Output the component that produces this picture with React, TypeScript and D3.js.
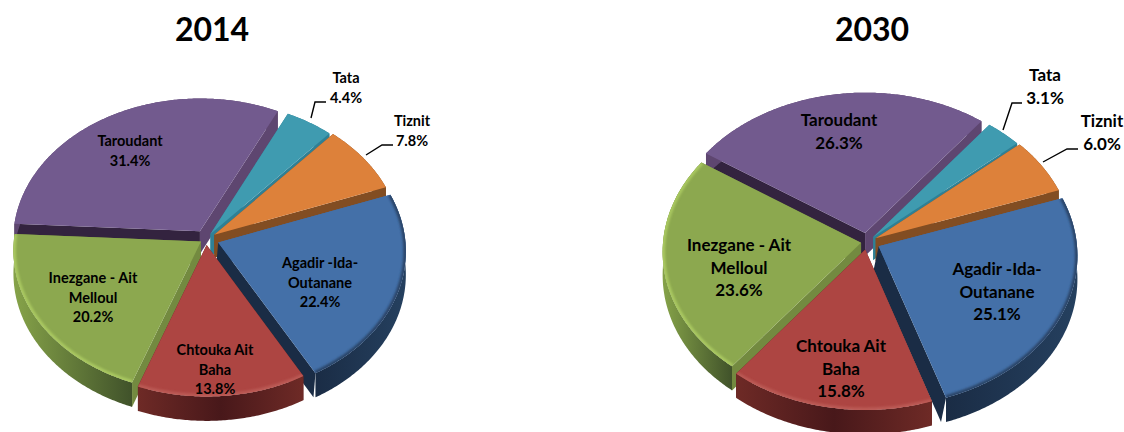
import React from "react";
import * as d3 from "d3";

const FONT = "Lato, Carlito, 'Open Sans', sans-serif";
const categories = ["Agadir -Ida-\nOutanane", "Chtouka Ait\nBaha", "Inezgane - Ait\nMelloul", "Taroudant", "Tata", "Tiznit"];
const values2014 = [22.4, 13.8, 20.2, 31.4, 4.4, 7.8];
const values2030 = [25.1, 15.8, 23.6, 26.3, 3.1, 6.0];

const tops = ["#4470A8", "#AD4542", "#8CA84F", "#725A8E", "#3F9BB0", "#DD813A"];
const startWalls = ["#4470A8", "#5A2320", "#738A40", "#33233F", "#2F8095", "#824D22"];
const endWalls = ["#1A2C45", "#5A2320", "#738A40", "#5E4670", "#2F8095", "#824D22"];
const outerA = ["#25405f", "#6e2a26", "#86a349", "#5E4670", "#2F8095", "#824D22"];
const outerB = ["#1A2C45", "#48181a", "#40522a", "#5E4670", "#2F8095", "#824D22"];
const rims = ["#2a4468", "#bb5a55", "#a9c860", "none", "none", "none"];
const paintOrder = [3, 4, 5, 0, 2, 1];

const explode2014 = [13, 8, 6, 12, 8, 10];
const explode2030 = [13, 10, 6, 12, 9, 10];
const labelPos2014: [number, number][] = [[320, 263], [215, 350], [93, 278], [130, 141], [346, 78], [412, 121]];
const labelPos2030: [number, number][] = [[997, 269], [841, 346], [739, 245], [839, 120], [1045, 75], [1102, 121]];
const leaders2014: [number, number][][] = [[[311, 118], [315, 102], [326, 102]], [[366, 155], [382, 145], [393, 145]]];
const leaders2030: [number, number][][] = [[[1003, 130], [1012, 103], [1022, 103]], [[1043, 162], [1067, 149], [1078, 149]]];

type Cfg = {
  id: string; title: string; titleX: number; values: number[]; cx: number; cy: number; R: number;
  start: number; depth: number; explode: number[]; labels: [number, number][]; leaders: [number, number][][];
  font: number; lh: number; wallSkew: number;
};
const charts: Cfg[] = [
  { id: "a", title: "2014", titleX: 212, values: values2014, cx: 206, cy: 239, R: 187, start: 70, depth: 23, explode: explode2014, labels: labelPos2014, leaders: leaders2014, font: 14.5, lh: 19.5, wallSkew: 2 },
  { id: "b", title: "2030", titleX: 872, values: values2030, cx: 867, cy: 242, R: 198, start: 71, depth: 23, explode: explode2030, labels: labelPos2030, leaders: leaders2030, font: 17, lh: 22.7, wallSkew: 5 },
];
const KY = 0.76, PERSP = 0.06;

function Pie3D({ c }: { c: Cfg }) {
  const pie = d3.pie<number>().sort(null).value((d) => d)
    .startAngle((c.start * Math.PI) / 180).endAngle((c.start * Math.PI) / 180 + 2 * Math.PI);
  const arcs = pie(c.values);
  const line = d3.line<[number, number]>().x((d) => d[0]).y((d) => d[1]);
  const proj = (x: number, y: number, z = 0): [number, number] => {
    const s = 1 + (PERSP * y) / c.R;
    return [c.cx + x * s, c.cy + (KY * y + z) * s];
  };
  return (
    <g>
      <text x={c.titleX} y={41} textAnchor="middle" fontFamily={FONT} fontWeight={700} fontSize={32} fill="#000">{c.title}</text>
      {paintOrder.map((i) => {
        const a = arcs[i];
        const mid = (a.startAngle + a.endAngle) / 2;
        const ex = Math.sin(mid) * c.explode[i], ey = -Math.cos(mid) * c.explode[i];
        const pt = (r: number, t: number, z = 0) => proj(ex + r * Math.sin(t), ey - r * Math.cos(t), z);
        const ang = d3.range(a.startAngle, a.endAngle, 0.01).concat(a.endAngle);
        const rimPts = ang.map((t) => pt(c.R, t));
        const tip = pt(0, 0);
        const tipB = pt(0, 0, c.depth);
        const topD = line([tip, ...rimPts])! + "Z";
        const outerD = line([...rimPts, ...ang.slice().reverse().map((t) => pt(c.R, t, c.depth))])! + "Z";
        const s0 = pt(c.R, a.startAngle), s1 = pt(c.R, a.startAngle, c.depth);
        const e0 = pt(c.R, a.endAngle), e1 = pt(c.R, a.endAngle, c.depth);
        const skew = i === 0 ? c.wallSkew : 0;
        const x0 = d3.min(rimPts, (p) => p[0])!, x1 = d3.max(rimPts, (p) => p[0])!;
        const gid = `w${c.id}${i}`, clip = `c${c.id}${i}`;
        return (
          <g key={i}>
            <defs>
              <linearGradient id={gid} gradientUnits="userSpaceOnUse" x1={x0} x2={x1} y1={0} y2={0}>
                <stop offset="0" stopColor={i === 0 ? outerB[i] : outerA[i]} />
                <stop offset={i === 1 ? "0.5" : "1"} stopColor={i === 0 ? outerA[i] : outerB[i]} />
                {i === 1 && <stop offset="1" stopColor={outerA[i]} />}
              </linearGradient>
              <clipPath id={clip}><path d={topD} /></clipPath>
            </defs>
            <path d={line([tip, s0, s1, tipB])! + "Z"} fill={startWalls[i]} />
            <path d={line([tip, e0, [e1[0] - skew, e1[1]], [tipB[0] - skew, tipB[1]]])! + "Z"} fill={endWalls[i]} />
            <path d={outerD} fill={`url(#${gid})`} />
            <path d={topD} fill={tops[i]} />
            {rims[i] !== "none" && (
              <g clipPath={`url(#${clip})`}>
                <path d={line(rimPts)!} fill="none" stroke={rims[i]} strokeWidth={5} filter="url(#soft)" />
              </g>
            )}
          </g>
        );
      })}
      {c.leaders.map((l, i) => (
        <path key={i} d={line(l)!} fill="none" stroke="#000" strokeWidth={1.4} />
      ))}
      {arcs.map((a, i) => {
        const lines = categories[i].split("\n").concat(`${c.values[i].toFixed(1)}%`);
        return (
          <text key={i} textAnchor="middle" fontFamily={FONT} fontWeight={700} fontSize={c.font} fill="#000">
            {lines.map((t, j) => (
              <tspan key={j} x={c.labels[i][0]} y={c.labels[i][1] + j * c.lh + c.font * 0.35}>{t}</tspan>
            ))}
          </text>
        );
      })}
    </g>
  );
}

export default function App() {
  return (
    <svg width={1124} height={432} style={{ position: "absolute", left: 0, top: 0, background: "#fff" }}>
      <defs>
        <filter id="soft" x="-10%" y="-10%" width="120%" height="120%"><feGaussianBlur stdDeviation="1.2" /></filter>
      </defs>
      {charts.map((c) => <Pie3D key={c.id} c={c} />)}
    </svg>
  );
}
